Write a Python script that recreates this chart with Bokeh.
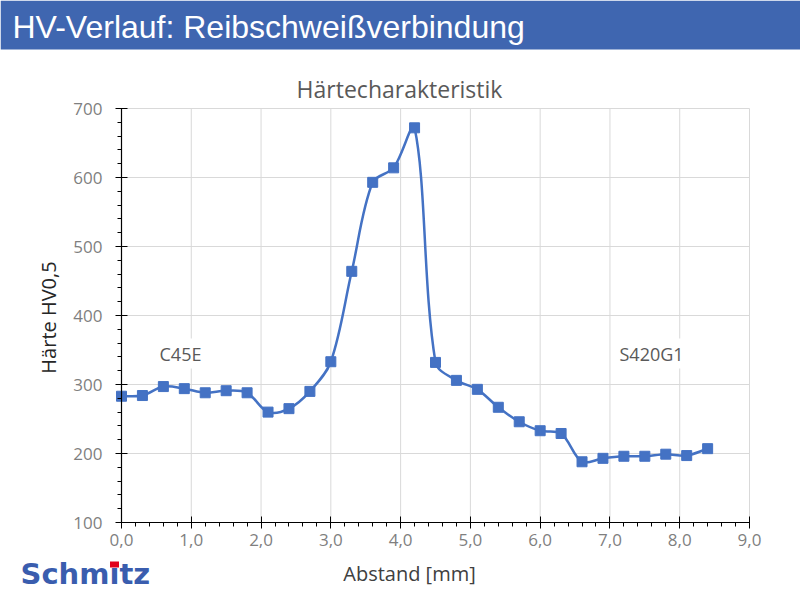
import numpy as np
from bokeh.plotting import figure
from bokeh.models import (Label, FixedTicker, CustomJSTickFormatter, ColumnDataSource,
                          Range1d, LinearAxis, BoxAnnotation)
from bokeh.embed import file_html
from bokeh.resources import INLINE

# ---------------- data ----------------
header_title = "HV-Verlauf: Reibschweißverbindung"
chart_title = "Härtecharakteristik"
x_label = "Abstand [mm]"
y_label = "Härte HV0,5"
material_left = "C45E"
material_right = "S420G1"
logo_text = "Schmitz"

distance_mm = [0.0, 0.3, 0.6, 0.9, 1.2, 1.5, 1.8, 2.1, 2.4, 2.7, 3.0, 3.3, 3.6, 3.9,
               4.2, 4.5, 4.8, 5.1, 5.4, 5.7, 6.0, 6.3, 6.6, 6.9, 7.2, 7.5, 7.8, 8.1, 8.4]
hardness_hv = [283, 284, 297, 294, 288, 291, 288, 260, 265, 290, 333, 464, 593, 614,
               672, 332, 306, 293, 267, 246, 233, 229, 188, 193, 196, 196, 199, 197, 207]

x_min, x_max = 0, 9
y_min, y_max = 100, 700
x_ticks = [0, 1, 2, 3, 4, 5, 6, 7, 8, 9]
x_minor_ticks = [round(i * 0.2, 1) for i in range(46)]
y_ticks = [100, 200, 300, 400, 500, 600, 700]
y_minor_ticks = list(range(100, 701, 20))

BLUE = "#4472C4"
HEADER_BLUE = "#3F66B0"
GRID = "#D9D9D9"
FONT = "Open Sans"

# ---------------- layout (page pixels) ----------------
W, H = 800, 600
PL, PR, PT, PB = 121, 749, 108, 522          # plot area edges
px_per_x = (PR - PL) / (x_max - x_min)
px_per_y = (PB - PT) / (y_max - y_min)


def px2x(px):
    return x_min + (px - PL) / px_per_x


def py2y(py):
    return y_max - (py - PT) / px_per_y


p = figure(width=W, height=H,
           x_range=Range1d(px2x(0), px2x(W)), y_range=Range1d(py2y(H), py2y(0)),
           toolbar_location=None, output_backend="svg",
           x_axis_location=None, y_axis_location=None, min_border=0)
p.outline_line_color = None
p.background_fill_color = "white"
p.border_fill_color = "white"
p.grid.visible = False

# grid lines at the tick positions
p.segment(x0=x_ticks, y0=[y_min] * len(x_ticks), x1=x_ticks, y1=[y_max] * len(x_ticks),
          line_color=GRID, line_width=1)
p.segment(x0=[x_min] * len(y_ticks), y0=y_ticks, x1=[x_max] * len(y_ticks), y1=y_ticks,
          line_color=GRID, line_width=1)

# axes
xaxis = LinearAxis(fixed_location=y_min, bounds=(x_min, x_max),
                   ticker=FixedTicker(ticks=x_ticks, minor_ticks=x_minor_ticks),
                   formatter=CustomJSTickFormatter(
                       code="return tick.toFixed(1).replace('.', ',');"))
yaxis = LinearAxis(fixed_location=x_min, bounds=(y_min, y_max),
                   ticker=FixedTicker(ticks=y_ticks, minor_ticks=y_minor_ticks))
for ax in (xaxis, yaxis):
    ax.axis_line_color = "black"
    ax.axis_line_width = 1.2
    ax.major_tick_line_color = "black"
    ax.minor_tick_line_color = "black"
    ax.major_tick_in = 6
    ax.major_tick_out = 6
    ax.minor_tick_in = 0
    ax.minor_tick_out = 4
    ax.major_label_text_font = FONT
    ax.major_label_text_font_size = "17px"
    ax.major_label_text_color = "#7F7F7F"
yaxis.major_label_standoff = 13
xaxis.major_label_standoff = 5
p.add_layout(xaxis, "below")
p.add_layout(yaxis, "left")

# smoothed line: cubic Bezier segments, control points scaled by chord lengths
xa = np.array(distance_mm, dtype=float)
ya = np.array(hardness_hv, dtype=float)
xp = np.concatenate([[xa[0]], xa, [xa[-1]]])
yp = np.concatenate([[ya[0]], ya, [ya[-1]]])
seglen = np.hypot(np.diff(xp) * px_per_x, np.diff(yp) * px_per_y)
n = len(xa) - 1
cx0, cy0, cx1, cy1 = [], [], [], []
for i in range(n):
    lp, lc, ln = seglen[i], seglen[i + 1], seglen[i + 2]
    r0 = lc / (lp + lc) if (lp + lc) > 0 else 0.5
    r1 = lc / (lc + ln) if (lc + ln) > 0 else 0.5
    cx0.append(xa[i] + (xp[i + 2] - xp[i]) * r0 / 3.0)
    cy0.append(ya[i] + (yp[i + 2] - yp[i]) * r0 / 3.0)
    cx1.append(xa[i + 1] - (xp[i + 3] - xp[i + 1]) * r1 / 3.0)
    cy1.append(ya[i + 1] - (yp[i + 3] - yp[i + 1]) * r1 / 3.0)
seg = dict(x0=xa[:-1], y0=ya[:-1], x1=xa[1:], y1=ya[1:], cx0=cx0, cy0=cy0, cx1=cx1, cy1=cy1)
p.bezier(x0="x0", y0="y0", x1="x1", y1="y1", cx0="cx0", cy0="cy0", cx1="cx1", cy1="cy1",
         source=ColumnDataSource(seg), line_color=BLUE, line_width=2.5)
p.scatter(distance_mm, hardness_hv, marker="square", size=10, color=BLUE)

# material labels
for txt, px in ((material_left, 156), (material_right, 616)):
    p.add_layout(Label(x=px2x(px), y=py2y(353), text=txt, text_font=FONT,
                       text_font_size="18px", text_color="#595959", text_align="left",
                       text_baseline="middle", background_fill_color="white", padding=3))

# header bar
p.add_layout(BoxAnnotation(bottom=py2y(49), fill_color=HEADER_BLUE, fill_alpha=1,
                           line_color=None))
p.add_layout(Label(x=px2x(12), y=py2y(26), text=header_title, text_color="white",
                   text_font="Liberation Sans", text_font_size="32px",
                   text_align="left", text_baseline="middle"))

# titles / axis labels
p.add_layout(Label(x=px2x(399), y=py2y(88), text=chart_title, text_font=FONT,
                   text_font_size="23px", text_color="#595959", text_align="center",
                   text_baseline="middle"))
p.add_layout(Label(x=px2x(409), y=py2y(573), text=x_label, text_font=FONT,
                   text_font_size="20px", text_color="#404040", text_align="center",
                   text_baseline="middle"))
p.add_layout(Label(x=px2x(48), y=py2y(317), text=y_label, text_font=FONT,
                   text_font_size="20px", text_color="#262626", text_align="center",
                   text_baseline="middle", angle=np.pi / 2))

# logo (text below, red i-dot glyph on top)
p.add_layout(Label(x=px2x(20), y=py2y(573), text=logo_text, text_font="DejaVu Sans",
                   text_font_style="bold", text_font_size="29px", text_color="#3A5DAE",
                   text_align="left", text_baseline="middle", level="underlay"))
p.rect(x=[px2x(114)], y=[py2y(564)], width=9, height=6, width_units="screen",
       height_units="screen", fill_color="#E2001A", line_color=None)

open("out.html", "w").write(file_html(p, INLINE))
